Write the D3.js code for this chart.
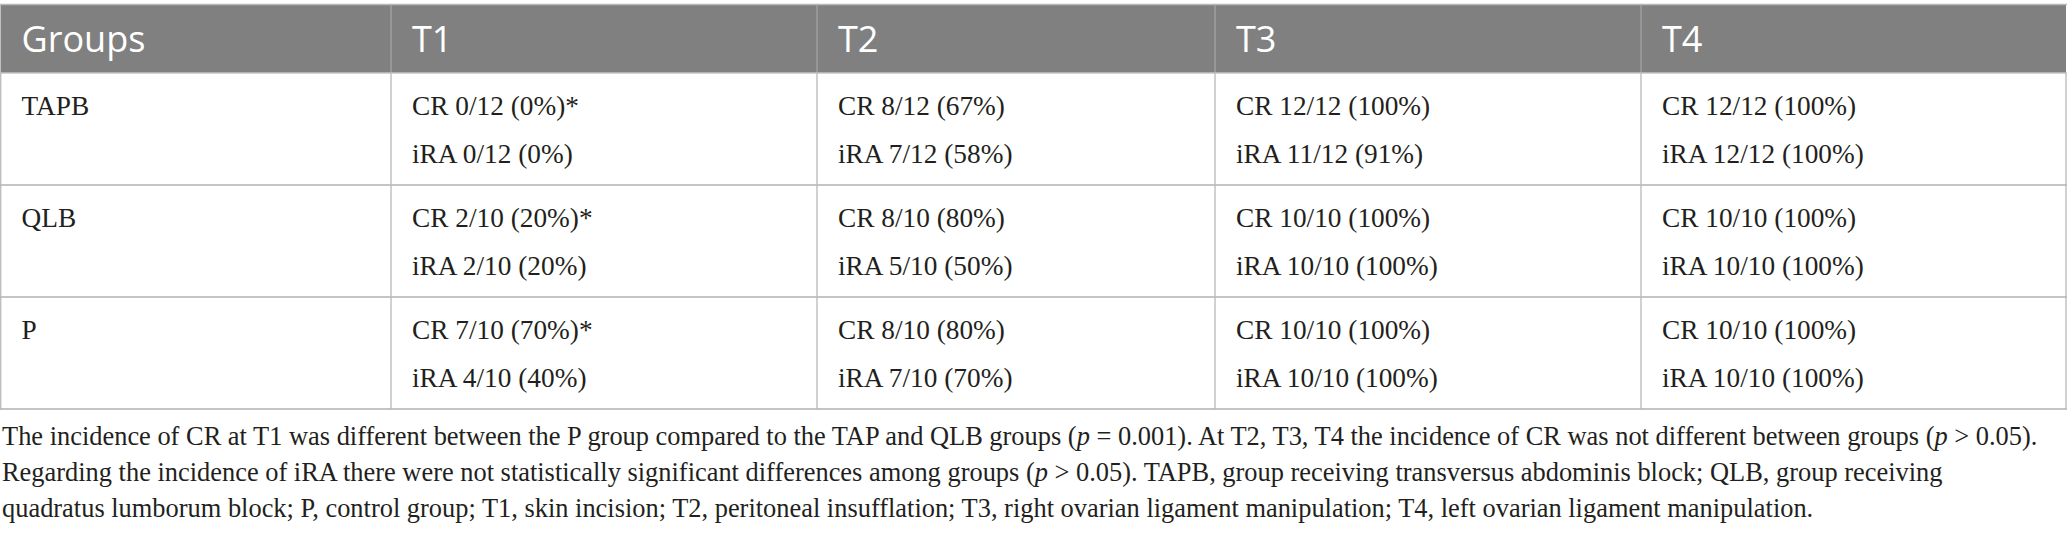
<!DOCTYPE html>
<html>
<head>
<meta charset="utf-8">
<script src="https://cdn.jsdelivr.net/npm/d3@7"></script>
<style>
  html, body { margin: 0; padding: 0; background: #ffffff; }
  svg { display: block; }
</style>
</head>
<body>
<svg id="chart" width="2067" height="536"></svg>
<script>
// ---------------- data ----------------
const columns = ["Groups", "T1", "T2", "T3", "T4"];
const groups = ["TAPB", "QLB", "P"];
const crValues = [
  ["CR 0/12 (0%)*", "CR 8/12 (67%)", "CR 12/12 (100%)", "CR 12/12 (100%)"],
  ["CR 2/10 (20%)*", "CR 8/10 (80%)", "CR 10/10 (100%)", "CR 10/10 (100%)"],
  ["CR 7/10 (70%)*", "CR 8/10 (80%)", "CR 10/10 (100%)", "CR 10/10 (100%)"]
];
const iraValues = [
  ["iRA 0/12 (0%)", "iRA 7/12 (58%)", "iRA 11/12 (91%)", "iRA 12/12 (100%)"],
  ["iRA 2/10 (20%)", "iRA 5/10 (50%)", "iRA 10/10 (100%)", "iRA 10/10 (100%)"],
  ["iRA 4/10 (40%)", "iRA 7/10 (70%)", "iRA 10/10 (100%)", "iRA 10/10 (100%)"]
];
// footnote lines; segments: [text, italic]
const footnoteLines = [
  [["The incidence of CR at T1 was different between the P group compared to the TAP and QLB groups (", false], ["p", true], [" = 0.001). At T2, T3, T4 the incidence of CR was not different between groups (", false], ["p", true], [" > 0.05).", false]],
  [["Regarding the incidence of iRA there were not statistically significant differences among groups (", false], ["p", true], [" > 0.05). TAPB, group receiving transversus abdominis block; QLB, group receiving", false]],
  [["quadratus lumborum block; P, control group; T1, skin incision; T2, peritoneal insufflation; T3, right ovarian ligament manipulation; T4, left ovarian ligament manipulation.", false]]
];

// ---------------- layout ----------------
const svg = d3.select("#chart");
const colEdges = [0.5, 391, 817, 1215, 1641, 2066];
const xCol = d3.scaleOrdinal().domain(columns).range(colEdges.slice(0, 5));
const headerTop = 4.5, headerBottom = 73, tableBottom = 409;
const yRow = d3.scaleBand().domain(groups).range([headerBottom, tableBottom]);
const pad = 21;

const serif = "'Liberation Serif', 'Times New Roman', serif";
const sans = "'Open Sans', 'Noto Sans', sans-serif";
const textColor = "#231f20";

// helper: fit font size so that a text has a target width
function fitSize(family, str, target, base) {
  const t = svg.append("text").attr("font-family", family).attr("font-size", base).text(str);
  const w = t.node().getComputedTextLength();
  t.remove();
  return base * target / w;
}
const headerSize = fitSize(sans, "Groups", 124, 30);
const bodySize = fitSize(serif, "CR 0/12 (0%)*", 167, 27);

// header background
svg.append("rect")
  .attr("x", 0.5).attr("y", headerTop)
  .attr("width", colEdges[5] - 0.5).attr("height", headerBottom - headerTop)
  .attr("fill", "#808080");
svg.append("line")
  .attr("x1", 0).attr("x2", 2067).attr("y1", headerTop).attr("y2", headerTop)
  .attr("stroke", "#b8b8b8").attr("stroke-width", 1.5);

// header column separators
svg.selectAll("line.hsep").data(columns.slice(1)).enter().append("line")
  .attr("class", "hsep")
  .attr("x1", d => xCol(d)).attr("x2", d => xCol(d))
  .attr("y1", headerTop).attr("y2", headerBottom)
  .attr("stroke", "#a6a6a6").attr("stroke-width", 1.2);

// header labels
svg.selectAll("text.head").data(columns).enter().append("text")
  .attr("class", "head")
  .attr("x", d => xCol(d) + pad)
  .attr("y", 52)
  .attr("font-family", sans)
  .attr("font-size", headerSize)
  .attr("fill", "#ffffff")
  .text(d => d);

// body row separators
svg.selectAll("line.rsep").data(groups).enter().append("line")
  .attr("class", "rsep")
  .attr("x1", 0).attr("x2", colEdges[5] + 1)
  .attr("y1", d => yRow(d) + yRow.bandwidth()).attr("y2", d => yRow(d) + yRow.bandwidth())
  .attr("stroke", "#c4c4c4").attr("stroke-width", 2);
svg.append("line")
  .attr("x1", 0).attr("x2", colEdges[5] + 1)
  .attr("y1", headerBottom).attr("y2", headerBottom)
  .attr("stroke", "#c4c4c4").attr("stroke-width", 1.5);

// body column separators + outer borders
const vEdges = [0.75].concat(columns.slice(1).map(d => xCol(d))).concat([colEdges[5]]);
svg.selectAll("line.vsep").data(vEdges).enter().append("line")
  .attr("class", "vsep")
  .attr("x1", d => d).attr("x2", d => d)
  .attr("y1", headerBottom).attr("y2", tableBottom)
  .attr("stroke", "#b9b9b9").attr("stroke-width", 1.3);

// group labels
svg.selectAll("text.group").data(groups).enter().append("text")
  .attr("class", "group")
  .attr("x", xCol("Groups") + pad)
  .attr("y", d => yRow(d) + 42)
  .attr("font-family", serif)
  .attr("font-size", bodySize)
  .attr("fill", textColor)
  .text(d => d);

// cells
const cells = [];
groups.forEach((g, gi) => {
  columns.slice(1).forEach((c, ci) => {
    cells.push({ g, c, line: 0, text: crValues[gi][ci] });
    cells.push({ g, c, line: 1, text: iraValues[gi][ci] });
  });
});
svg.selectAll("text.cell").data(cells).enter().append("text")
  .attr("class", "cell")
  .attr("x", d => xCol(d.c) + pad)
  .attr("y", d => yRow(d.g) + 42 + d.line * 48)
  .attr("font-family", serif)
  .attr("font-size", bodySize)
  .attr("fill", textColor)
  .text(d => d.text);

// footnote
const footY = [445, 481, 517];
const noteSize = fitSize(serif, footnoteLines[0].map(s => s[0]).join(""), 2036, 27);
footnoteLines.forEach((segs, i) => {
  const t = svg.append("text")
    .attr("x", 2).attr("y", footY[i])
    .attr("font-family", serif)
    .attr("font-size", noteSize)
    .attr("fill", textColor);
  t.selectAll("tspan").data(segs).enter().append("tspan")
    .attr("font-style", d => d[1] ? "italic" : "normal")
    .text(d => d[0]);
});
</script>
</body>
</html>
